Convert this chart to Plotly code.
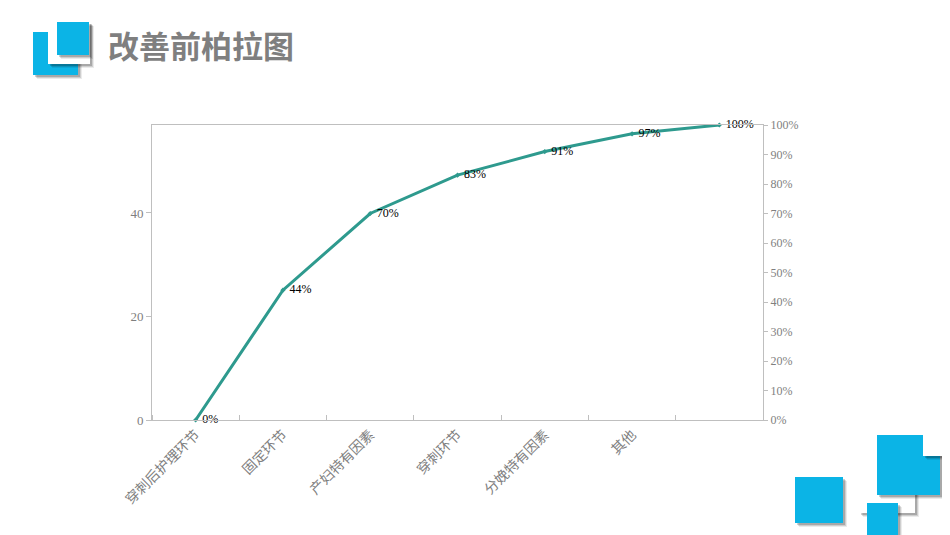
import plotly.graph_objects as go

# ---- data ----
categories = ["穿刺后护理环节", "固定环节", "产妇特有因素", "穿刺环节", "分娩特有因素", "其他"]
cum_pct = [0, 44, 70, 83, 91, 97, 100]          # cumulative percentage (right axis)
pct_labels = ["0%", "44%", "70%", "83%", "91%", "97%", "100%"]
left_ticks = [0, 20, 40]
right_ticks = list(range(0, 101, 10))

OFF = 8                      # page body margin
W, H = 950 - OFF, 535 - OFF
# plot area in screen pixels
L, R, T, B = 152, 763, 125, 420

def px(xp):
    return (xp - L) / (R - L)

def py(yp):
    return (B - yp) / (B - T)

BLUE = "#0BB4E6"
GREY_TXT = "#7F7F7F"
AX = "#BFBFBF"
TEAL = "#2E9A8E"

fig = go.Figure()
# empty trace to keep the left (count) axis present
fig.add_trace(go.Scatter(x=[], y=[], yaxis="y", mode="none",
                         showlegend=False, hoverinfo="skip"))
fig.add_trace(go.Scatter(
    x=list(range(len(cum_pct))), y=cum_pct, yaxis="y2",
    mode="lines+markers+text",
    line=dict(color=TEAL, width=3),
    marker=dict(color=TEAL, size=4, symbol="diamond"),
    text=[" " + t for t in pct_labels], textposition="middle right",
    textfont=dict(family="Liberation Serif", size=12, color="#000000"),
    cliponaxis=False, showlegend=False, hoverinfo="skip",
))

shapes = []

def square(x0, y0, x1, y1, color, shadow=True):
    if shadow:
        for d, op in [(4, 0.08), (3, 0.12), (2, 0.18)]:
            shapes.append(dict(type="rect", xref="paper", yref="paper",
                               x0=px(x0 + d), x1=px(x1 + d), y0=py(y0 + d), y1=py(y1 + d),
                               line=dict(width=0), fillcolor="rgba(0,0,0,%.2f)" % op))
    shapes.append(dict(type="rect", xref="paper", yref="paper",
                       x0=px(x0), x1=px(x1), y0=py(y0), y1=py(y1),
                       line=dict(width=0), fillcolor=color))

# top-left decoration
square(33, 32, 78, 75, BLUE)
square(48, 22, 90, 64, "#FFFFFF")
square(57, 22, 89, 55, BLUE)

# bottom-right decoration
square(859, 453, 915, 513, "#FFFFFF")
square(877, 435, 940, 495, BLUE)
square(923, 433, 946, 456, "#FFFFFF")
square(867, 503, 898, 540, BLUE)
square(795, 477, 843, 523, BLUE)

annotations = [dict(
    text="<b>改善前柏拉图</b>", xref="paper", yref="paper",
    x=px(106), y=py(44), xanchor="left", yanchor="middle", showarrow=False,
    font=dict(family="Noto Sans CJK SC", size=31, color=GREY_TXT),
)]

fig.update_layout(
    width=W, height=H,
    margin=dict(l=L - OFF, r=950 - R, t=T - OFF, b=535 - B, pad=0),
    paper_bgcolor="white", plot_bgcolor="white",
    shapes=shapes, annotations=annotations,
    xaxis=dict(
        range=[-0.5, len(cum_pct) - 0.5],
        tickmode="array", tickvals=list(range(len(categories))), ticktext=categories,
        tickangle=-45, ticks="", showgrid=False, zeroline=False,
        showline=True, linecolor=AX, linewidth=1, mirror=True,
        tickfont=dict(family="Noto Sans CJK SC", size=14, color=GREY_TXT),
        minor=dict(ticks="inside", tick0=0.5, dtick=1, ticklen=5, tickcolor=AX, showgrid=False),
    ),
    yaxis=dict(
        range=[0, 57], tickmode="array", tickvals=left_ticks,
        ticks="outside", ticklen=5, tickcolor=AX, showgrid=False, zeroline=False,
        showline=True, linecolor=AX, linewidth=1,
        tickfont=dict(family="Liberation Serif", size=13, color=GREY_TXT),
    ),
    yaxis2=dict(
        range=[0, 100], overlaying="y", side="right", tickmode="array",
        tickvals=right_ticks, ticktext=[f"{v}%" for v in right_ticks],
        ticks="outside", ticklen=4, tickcolor=AX, showgrid=False, zeroline=False,
        showline=True, linecolor=AX, linewidth=1,
        tickfont=dict(family="Liberation Serif", size=12, color=GREY_TXT),
    ),
)

fig.write_html("out.html")
